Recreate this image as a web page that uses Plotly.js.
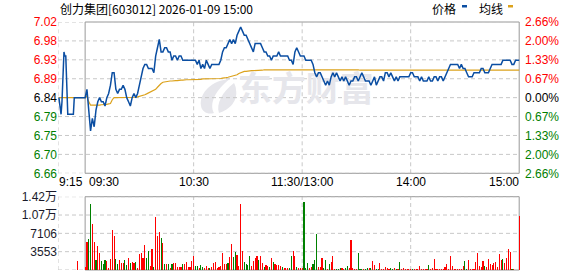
<!DOCTYPE html>
<html><head><meta charset="utf-8">
<script src="https://cdn.plot.ly/plotly-3.0.1.min.js"></script>
<style>html,body{margin:0;padding:0;background:#fff;}#chart{width:578px;height:276px;}</style>
</head><body><div id="chart"></div>
<script>
// ---------------- data ----------------
const stockTitle = '创力集团[603012] 2026-01-09 15:00';
const legendNames = ['价格', '均线'];
const watermarkText = '东方财富';
const prevClose = 6.84;
const limitPct = 2.66;
const priceTickLabels = ['7.02','6.98','6.93','6.89','6.84','6.79','6.75','6.70','6.66'];
const pctTickLabels = ['2.66%','2.00%','1.33%','0.67%','0.00%','0.67%','1.33%','2.00%','2.66%'];
const volMax = 14212;
const volTickLabels = ['1.42万','1.07万','7106','3553','0'];
const timeLabels = ['9:15','09:30','10:30','11:30/13:00','14:00','15:00'];
const timeLabelIdx = [0, 15, 75, 135, 195, 255];   // minute index from 9:15

// call auction (9:15-9:25)
const auctionIdx   = [0.5, 1.1, 1.7, 2.2, 3.3, 3.8, 4.3, 5.4, 8.5, 9.0, 10.0];
const auctionPrice = [6.84,6.81,6.80,6.83,6.95,6.94,6.94,6.80,6.80,6.84,6.84];
const auctionAvg   = [6.84,6.84,6.84,6.84,6.84,6.84,6.84,6.84,6.84,6.84,6.84];
const auctionVolIdx = [11];
const auctionVol    = [1795];

// continuous session, one value per minute, 9:30 ... 15:00 (241 points)
const tradeStartIdx = 15;
const price = [
 6.84,6.86,6.81,6.76,6.79,6.77,6.81,6.83,6.84,6.83,
 6.83,6.82,6.84,6.85,6.87,6.90,6.90,6.86,6.85,6.86,
 6.86,6.87,6.86,6.84,6.83,6.82,6.84,6.85,6.84,6.85,
 6.87,6.89,6.91,6.92,6.92,6.91,6.91,6.91,6.90,6.94,
 6.96,6.98,6.95,6.95,6.96,6.96,6.95,6.95,6.93,6.94,
 6.94,6.93,6.94,6.94,6.93,6.93,6.93,6.93,6.93,6.93,
 6.93,6.93,6.92,6.93,6.91,6.92,6.91,6.93,6.92,6.91,
 6.92,6.92,6.92,6.92,6.92,6.93,6.95,6.96,6.96,6.97,
 6.98,6.97,6.98,6.97,6.99,7.00,7.01,7.00,6.99,6.99,
 6.98,6.97,6.96,6.95,6.97,6.97,6.97,6.97,6.96,6.95,
 6.95,6.94,6.94,6.93,6.94,6.94,6.94,6.95,6.94,6.94,
 6.94,6.94,6.94,6.93,6.93,6.92,6.95,6.96,6.95,6.94,
 6.94,6.94,6.93,6.93,6.93,6.93,6.92,6.90,6.89,6.90,
 6.90,6.89,6.88,6.87,6.88,6.87,6.89,6.90,6.89,6.90,
 6.89,6.88,6.89,6.88,6.89,6.88,6.87,6.88,6.88,6.89,
 6.89,6.88,6.89,6.90,6.89,6.88,6.88,6.88,6.87,6.88,
 6.89,6.87,6.88,6.89,6.89,6.88,6.90,6.90,6.89,6.90,
 6.89,6.88,6.89,6.88,6.89,6.89,6.89,6.89,6.89,6.89,
 6.90,6.90,6.89,6.89,6.89,6.88,6.89,6.88,6.88,6.88,
 6.89,6.88,6.88,6.89,6.89,6.88,6.89,6.89,6.88,6.89,
 6.90,6.91,6.92,6.92,6.92,6.92,6.92,6.91,6.92,6.91,
 6.91,6.90,6.89,6.89,6.89,6.90,6.90,6.90,6.90,6.91,
 6.91,6.90,6.90,6.90,6.91,6.92,6.92,6.92,6.92,6.92,
 6.92,6.93,6.93,6.93,6.93,6.93,6.92,6.92,6.93,6.93,
 6.93
];
const avgPrice = [
 6.840,6.845,6.830,6.822,6.822,6.821,6.821,6.822,6.822,6.823,
 6.823,6.823,6.824,6.825,6.826,6.835,6.840,6.840,6.840,6.840,
 6.841,6.841,6.841,6.841,6.841,6.841,6.841,6.841,6.841,6.842,
 6.843,6.844,6.846,6.847,6.849,6.851,6.853,6.855,6.857,6.860,
 6.865,6.870,6.874,6.877,6.878,6.879,6.879,6.880,6.880,6.881,
 6.881,6.881,6.882,6.882,6.882,6.883,6.883,6.883,6.883,6.884,
 6.884,6.884,6.884,6.884,6.884,6.885,6.885,6.885,6.885,6.885,
 6.885,6.885,6.885,6.886,6.886,6.886,6.887,6.887,6.888,6.889,
 6.890,6.891,6.892,6.893,6.895,6.898,6.900,6.902,6.903,6.903,
 6.904,6.904,6.905,6.905,6.905,6.906,6.906,6.906,6.906,6.907,
 6.907,6.907,6.907,6.907,6.907,6.908,6.908,6.908,6.908,6.908,
 6.908,6.908,6.908,6.908,6.908,6.908,6.908,6.908,6.908,6.908,
 6.908,6.908,6.908,6.908,6.908,6.908,6.908,6.908,6.908,6.908,
 6.908,6.908,6.908,6.908,6.908,6.908,6.908,6.908,6.908,6.908,
 6.908,6.908,6.908,6.908,6.908,6.907,6.907,6.907,6.907,6.907,
 6.907,6.907,6.906,6.906,6.906,6.906,6.906,6.906,6.906,6.906,
 6.906,6.906,6.906,6.906,6.906,6.906,6.906,6.906,6.906,6.906,
 6.906,6.906,6.906,6.906,6.906,6.906,6.906,6.906,6.906,6.906,
 6.906,6.906,6.906,6.906,6.906,6.906,6.906,6.906,6.906,6.906,
 6.906,6.906,6.906,6.906,6.906,6.906,6.906,6.906,6.906,6.906,
 6.906,6.906,6.906,6.906,6.906,6.906,6.906,6.906,6.906,6.906,
 6.906,6.906,6.906,6.906,6.906,6.906,6.906,6.906,6.906,6.906,
 6.906,6.906,6.906,6.906,6.906,6.906,6.906,6.906,6.906,6.906,
 6.906,6.906,6.906,6.906,6.906,6.906,6.906,6.906,6.906,6.906,
 6.906
];
const volume = [
 500,5345,5990,12880,9016,5345,1932,4637,3220,1739,
 1159,1932,1739,322,2125,7728,6633,2125,1159,1932,
 1288,1417,1932,966,2383,1288,1610,1288,1610,322,
 3091,3284,2383,4830,2383,3735,773,4057,515,10304,
 6633,7277,6247,5216,1095,1159,1095,451,1159,1417,
 1417,515,515,515,1159,1095,1481,644,600,1800,
 2770,700,700,400,1000,500,300,700,400,400,
 600,1400,1500,300,500,800,3300,1100,1100,1300,
 2600,5000,2600,3400,2900,800,12800,3600,1600,1200,
 1000,2800,700,1700,2300,2800,2000,2800,1400,500,
 1000,700,500,2400,1500,1100,1000,900,700,500,
 400,400,300,300,2770,3600,2770,500,300,300,
 400,13140,400,1350,400,600,1160,2000,7020,640,
 640,2320,400,2000,250,1160,1545,2640,250,250,
 250,450,400,250,450,840,400,5860,450,250,
 250,3280,250,250,250,250,450,400,400,1670,
 900,250,250,1350,250,250,500,400,250,450,
 250,400,250,250,1545,250,450,250,250,250,
 250,250,250,250,250,840,250,250,250,250,
 1030,250,450,2190,250,250,250,250,250,500,
 1220,250,2770,840,250,250,250,250,250,840,
 1800,250,2000,250,250,250,1480,3280,840,640,
 1800,840,640,2190,1160,1030,1350,1545,520,3090,
 2000,2190,1350,2380,4120,3480,250,250,0,0,
 10500
];
// u = up (red), d = down (green), one letter per minute
const volDir = (
 'uudduuduud' + 'dduuuuuddu' + 'uudduduudu' + 'uuuudduudu' +
 'uududududu' + 'uuuuduuuuu' + 'uddudduuud' + 'uuuuuuuuud' +
 'uudduuuudd' + 'dduuuuduud' + 'uududuuuud' + 'uuudduuduu' +
 'uddduudddu' + 'uudduduuud' + 'dduudduuuu' + 'uddduddudu' +
 'udduuuuuud' + 'dududuuuuu' + 'uduuuuuuuu' + 'duuuuuuuuu' +
 'uuuuuuuuuu' + 'dduuuuuuuu' + 'uduuuuuuuu' + 'uduuuuduuu' + 'u'
).split('');

// ---------------- derived positions / styles ----------------
const tradeIdx = price.map((_, i) => tradeStartIdx + i);
const RED = '#ff0000', GREEN = '#008000', BLACK = '#000000';
const tickKs = [4,3,2,1,0,-1,-2,-3,-4];
const priceTickVals = tickKs.map(k => prevClose * (1 + k * limitPct / 400));
const kColor = k => k > 0 ? RED : (k < 0 ? GREEN : BLACK);
const priceTickText = priceTickLabels.map((t, i) => `<span style="color:${kColor(tickKs[i])}">${t}</span>`);
const pctTickText = pctTickLabels.map((t, i) => `<span style="color:${kColor(tickKs[i])}">${t}</span>`);
const volTickVals = [4,3,2,1,0].map(k => volMax * k / 4);
const yMin = prevClose * (1 - limitPct / 100), yMax = prevClose * (1 + limitPct / 100);

const W = 578, H = 276, ML = 58, MR = 57, MT = 22, MB = 6;
const plotW = W - ML - MR, plotH = H - MT - MB;
const px = x => (x - ML) / plotW;
const py = y => (H - MB - y) / plotH;

const FONT_NUM = 'Liberation Sans, Arial, Noto Sans CJK SC, sans-serif';
const FONT_CJK = 'Noto Sans CJK SC, sans-serif';
const BLUE = '#0b4ea2', GOLD = '#dca21c';
const GRID = '#c8c8c8', BORDER = '#999999', WM = '#e6e6eb';

const traces = [
  { type: 'scatter', mode: 'text', x: [137], y: [6.852], text: [watermarkText],
    textfont: { family: FONT_CJK, size: 34, color: WM, weight: 700 },
    xaxis: 'x', yaxis: 'y', hoverinfo: 'skip', showlegend: false },
  { type: 'scatter', mode: 'lines', x: auctionIdx.concat(tradeIdx), y: auctionAvg.concat(avgPrice),
    line: { color: GOLD, width: 1.2 }, xaxis: 'x', yaxis: 'y', hoverinfo: 'skip', showlegend: false },
  { type: 'scatter', mode: 'lines', x: auctionIdx.concat(tradeIdx), y: auctionPrice.concat(price),
    line: { color: BLUE, width: 1.5 }, xaxis: 'x', yaxis: 'y', hoverinfo: 'skip', showlegend: false },
  { type: 'bar', x: auctionVolIdx.concat(tradeIdx), y: auctionVol.concat(volume),
    marker: { color: ['u'].concat(volDir).map(d => d === 'u' ? RED : GREEN), line: { width: 0 } },
    width: 0.62, xaxis: 'x2', yaxis: 'y2', hoverinfo: 'skip', showlegend: false },
  // right-side percentage axis carrier
  { type: 'scatter', mode: 'lines', x: [0], y: [prevClose], xaxis: 'x', yaxis: 'y3',
    line: { width: 0 }, hoverinfo: 'skip', showlegend: false }
];

const shapes = [];
const gridLine = { color: GRID, width: 1, dash: '4px,3px' };
priceTickVals.forEach(v => shapes.push({ type: 'line', layer: 'below', xref: 'x', yref: 'y',
  x0: 0, x1: 255, y0: v, y1: v, line: gridLine }));
volTickVals.forEach(v => shapes.push({ type: 'line', layer: 'below', xref: 'x2', yref: 'y2',
  x0: 0, x1: 255, y0: v, y1: v, line: gridLine }));
[0, 75, 135, 195].forEach(t => {
  shapes.push({ type: 'line', layer: 'below', xref: 'x', yref: 'y domain', x0: t, x1: t, y0: 0, y1: 1, line: gridLine });
  shapes.push({ type: 'line', layer: 'below', xref: 'x2', yref: 'y2 domain', x0: t, x1: t, y0: 0, y1: 1, line: gridLine });
});
shapes.push({ type: 'rect', layer: 'below', xref: 'x', yref: 'y domain', x0: 15, x1: 255, y0: 0, y1: 1,
  line: { color: BORDER, width: 1 }, fillcolor: 'rgba(0,0,0,0)' });
shapes.push({ type: 'rect', layer: 'below', xref: 'x2', yref: 'y2 domain', x0: 15, x1: 255, y0: 0, y1: 1,
  line: { color: BORDER, width: 1 }, fillcolor: 'rgba(0,0,0,0)' });
// watermark logo (decorative, pixel path converted to paper space)
const P = (x, y) => `${px(x)},${py(y)}`;
shapes.push({ type: 'path', layer: 'below', xref: 'paper', yref: 'paper', line: { width: 0 }, fillcolor: WM,
  path: `M ${P(230,79)} C ${P(212,80)} ${P(199,93)} ${P(201,106)} C ${P(202,112)} ${P(208,115)} ${P(214,113)} ` +
        `C ${P(209,104)} ${P(215,90)} ${P(230,79)} Z` });
shapes.push({ type: 'path', layer: 'below', xref: 'paper', yref: 'paper', line: { width: 0 }, fillcolor: WM,
  path: `M ${P(234,83)} C ${P(222,92)} ${P(216,104)} ${P(219,113)} C ${P(230,110)} ${P(238,100)} ${P(236,90)} ` +
        `C ${P(236,87)} ${P(235,85)} ${P(234,83)} Z` });
// legend swatches
shapes.push({ type: 'rect', xref: 'paper', yref: 'paper', x0: px(462), x1: px(467), y0: py(7.5), y1: py(5),
  line: { width: 0 }, fillcolor: BLUE });
shapes.push({ type: 'rect', xref: 'paper', yref: 'paper', x0: px(508), x1: px(513), y0: py(7.5), y1: py(5),
  line: { width: 0 }, fillcolor: GOLD });

const annotations = [
  { text: stockTitle, xref: 'paper', yref: 'paper', x: 0, y: py(8.5), xanchor: 'left', yanchor: 'middle',
    showarrow: false, font: { family: FONT_CJK, size: 12, color: '#000' } },
  { text: legendNames[0], xref: 'paper', yref: 'paper', x: px(430), y: py(8.5), xanchor: 'left', yanchor: 'middle',
    showarrow: false, font: { family: FONT_CJK, size: 12, color: '#000' } },
  { text: legendNames[1], xref: 'paper', yref: 'paper', x: px(477), y: py(8.5), xanchor: 'left', yanchor: 'middle',
    showarrow: false, font: { family: FONT_CJK, size: 12, color: '#000' } }
];
const labelAnchor = ['left', 'left', 'center', 'center', 'center', 'right'];
const labelShift = [-1, 2, 0, 0, 0, 2];
timeLabels.forEach((t, i) => annotations.push({
  text: t, xref: 'x', yref: 'paper', x: timeLabelIdx[i], y: py(182), xanchor: labelAnchor[i], yanchor: 'middle',
  xshift: labelShift[i], showarrow: false, font: { family: FONT_NUM, size: 12, color: '#000' } }));

const axisCommon = { showgrid: false, zeroline: false, showline: false, ticks: '', fixedrange: true };
const layout = {
  width: W, height: H,
  margin: { l: ML, r: MR, t: MT, b: MB, pad: 0 },
  paper_bgcolor: '#ffffff', plot_bgcolor: 'rgba(0,0,0,0)',
  showlegend: false, bargap: 0,
  xaxis: Object.assign({}, axisCommon, { domain: [0, 1], range: [0, 256], anchor: 'y', showticklabels: false }),
  xaxis2: Object.assign({}, axisCommon, { domain: [0, 1], range: [0, 256], anchor: 'y2', showticklabels: false }),
  yaxis: Object.assign({}, axisCommon, { domain: [py(173.3), 1], range: [yMin, yMax], anchor: 'x',
    tickmode: 'array', tickvals: priceTickVals, ticktext: priceTickText,
    tickfont: { family: FONT_NUM, size: 12 } }),
  yaxis3: Object.assign({}, axisCommon, { overlaying: 'y', side: 'right', range: [yMin, yMax], anchor: 'x',
    tickmode: 'array', tickvals: priceTickVals, ticktext: pctTickText, ticklabelstandoff: 3,
    tickfont: { family: FONT_NUM, size: 12 } }),
  yaxis2: Object.assign({}, axisCommon, { domain: [0, py(196.7)], range: [0, volMax], anchor: 'x2',
    tickmode: 'array', tickvals: volTickVals, ticktext: volTickLabels,
    tickfont: { family: FONT_NUM, size: 12, color: '#1a1a2a' } }),
  shapes: shapes,
  annotations: annotations
};

Plotly.newPlot('chart', traces, layout, { staticPlot: true, displayModeBar: false });
</script>
</body></html>
